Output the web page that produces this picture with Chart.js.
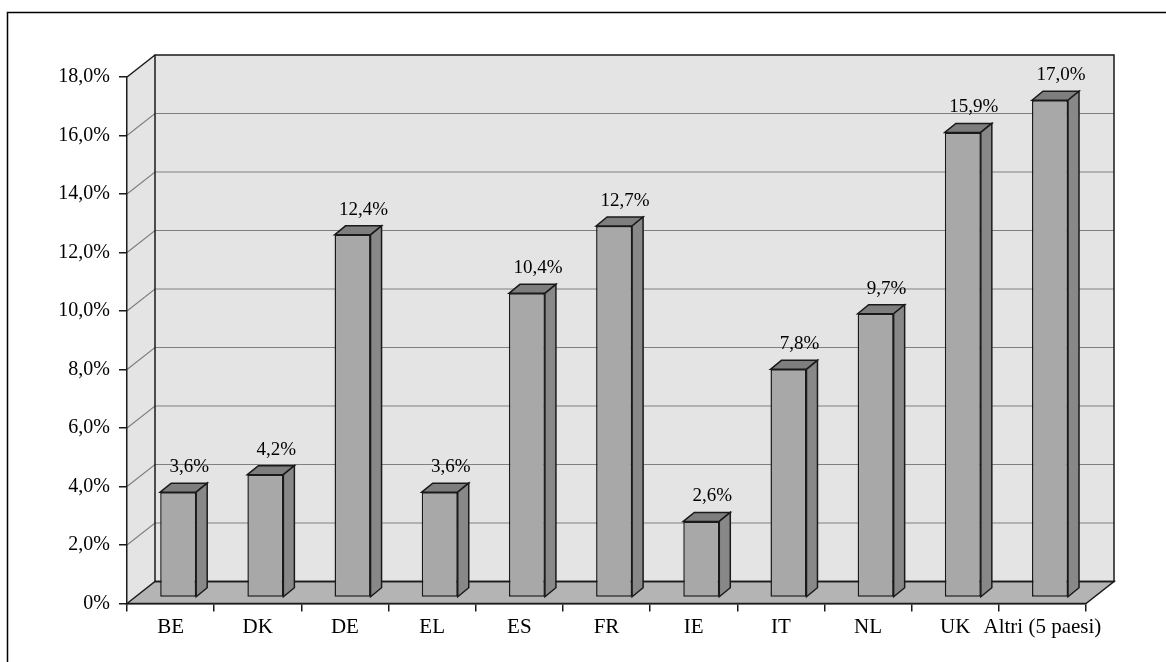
<!DOCTYPE html>
<html>
<head>
<meta charset="utf-8">
<script src="https://cdn.jsdelivr.net/npm/chart.js@4.4.1/dist/chart.umd.min.js"></script>
<style>
  html, body { margin: 0; padding: 0; background: #ffffff; }
  #wrap { width: 1166px; height: 662px; position: relative; }
</style>
</head>
<body>
<div id="wrap"><canvas id="c" width="1166" height="662"></canvas></div>
<script>
// Quota per paese (%)
const categories = ['BE', 'DK', 'DE', 'EL', 'ES', 'FR', 'IE', 'IT', 'NL', 'UK', 'Altri (5 paesi)'];
const shares = [3.6, 4.2, 12.4, 3.6, 10.4, 12.7, 2.6, 7.8, 9.7, 15.9, 17.0];
const yMin = 0;
const yMax = 18;
const yStep = 2;

// Depth of the back wall / floor and placement of the bars inside it
const WALL_DX = 28, WALL_DY = 22;
const BAR_SHIFT_X = 7.6, BAR_SHIFT_Y = 6;
const BAR_DX = 11, BAR_DY = 9;

const SERIF = '"Liberation Serif", "Times New Roman", serif';
const EDGE = '#1a1a1a';

function fmtPct(v) {
  return v === 0 ? '0%' : v.toFixed(1).replace('.', ',') + '%';
}

function poly(ctx, pts, fill, stroke, lw) {
  ctx.beginPath();
  ctx.moveTo(pts[0][0], pts[0][1]);
  for (let i = 1; i < pts.length; i++) ctx.lineTo(pts[i][0], pts[i][1]);
  ctx.closePath();
  if (fill) { ctx.fillStyle = fill; ctx.fill(); }
  if (stroke) { ctx.strokeStyle = stroke; ctx.lineWidth = lw || 1.5; ctx.stroke(); }
}

// Frame, walls, floor and back-wall gridlines
const box3d = {
  id: 'box3d',
  beforeDraw(chart) {
    const { ctx, chartArea: a, scales } = chart;
    const y = scales.y;
    ctx.save();
    // outer frame
    ctx.strokeStyle = '#000';
    ctx.lineWidth = 1.5;
    ctx.strokeRect(7.5, 12.5, 1200, 700);

    const L = a.left, R = a.right, B = y.getPixelForValue(yMin), T = y.getPixelForValue(yMax);
    // back wall
    poly(ctx, [[L + WALL_DX, T - WALL_DY], [R + WALL_DX, T - WALL_DY], [R + WALL_DX, B - WALL_DY], [L + WALL_DX, B - WALL_DY]], '#e4e4e4', null);
    // side wall
    poly(ctx, [[L, B], [L, T], [L + WALL_DX, T - WALL_DY], [L + WALL_DX, B - WALL_DY]], '#e4e4e4', null);

    // gridlines
    ctx.strokeStyle = '#808080';
    ctx.lineWidth = 1.2;
    for (let v = yMin + yStep; v < yMax; v += yStep) {
      const py = y.getPixelForValue(v);
      ctx.beginPath();
      ctx.moveTo(L, py);
      ctx.lineTo(L + WALL_DX, py - WALL_DY);
      ctx.lineTo(R + WALL_DX, py - WALL_DY);
      ctx.stroke();
    }

    // floor
    poly(ctx, [[L, B], [L + WALL_DX, B - WALL_DY], [R + WALL_DX, B - WALL_DY], [R, B]], '#b4b4b4', EDGE, 1.5);
    // wall outlines
    ctx.strokeStyle = EDGE;
    ctx.lineWidth = 1.5;
    ctx.strokeRect(L + WALL_DX, T - WALL_DY, R - L, B - T);
    ctx.beginPath();
    ctx.moveTo(L, T);
    ctx.lineTo(L + WALL_DX, T - WALL_DY);
    ctx.stroke();
    ctx.restore();
  },
  beforeDatasetsDraw(chart) {
    chart.ctx.save();
    chart.ctx.translate(BAR_SHIFT_X, -BAR_SHIFT_Y);
  },
  afterDatasetsDraw(chart) {
    const ctx = chart.ctx;
    const meta = chart.getDatasetMeta(0);
    meta.data.forEach((bar, i) => {
      const p = bar.getProps(['x', 'y', 'base', 'width'], true);
      const l = p.x - p.width / 2, r = p.x + p.width / 2, t = p.y, b = p.base;
      // top face
      poly(ctx, [[l, t], [l + BAR_DX, t - BAR_DY], [r + BAR_DX, t - BAR_DY], [r, t]], '#7e7e7e', EDGE, 1.5);
      // right face
      poly(ctx, [[r, t], [r + BAR_DX, t - BAR_DY], [r + BAR_DX, b - BAR_DY], [r, b]], '#888888', EDGE, 1.5);
      // value label
      ctx.fillStyle = '#000';
      ctx.font = '19px ' + SERIF;
      ctx.textAlign = 'center';
      ctx.textBaseline = 'alphabetic';
      ctx.fillText(fmtPct(shares[i]), p.x + 11, t - 20);
    });
    ctx.restore();
  }
};

new Chart(document.getElementById('c'), {
  type: 'bar',
  data: {
    labels: categories,
    datasets: [{
      data: shares,
      backgroundColor: '#a8a8a8',
      borderColor: EDGE,
      borderWidth: 1.5,
      borderSkipped: false,
      categoryPercentage: 1,
      barPercentage: 0.413,
      clip: false
    }]
  },
  options: {
    responsive: false,
    devicePixelRatio: 1,
    animation: false,
    events: [],
    layout: { padding: { left: 0, top: 77, right: 80, bottom: 8.5 } },
    plugins: { legend: { display: false }, tooltip: { enabled: false }, title: { display: false } },
    scales: {
      x: {
        afterFit(s) { s.height = 50; },
        grid: { offset: true, drawOnChartArea: false, drawTicks: true, tickLength: 8, color: EDGE, lineWidth: 1.5 },
        border: { display: true, color: EDGE, width: 1.5 },
        ticks: { color: '#000', font: { family: SERIF, size: 21 }, padding: 3, maxRotation: 0, autoSkip: false }
      },
      y: {
        min: yMin,
        max: yMax,
        afterFit(s) { s.width = 127; },
        grid: { drawOnChartArea: false, drawTicks: true, tickLength: 8, color: EDGE, lineWidth: 1.5 },
        border: { display: true, color: EDGE, width: 1.5 },
        ticks: { stepSize: yStep, color: '#000', font: { family: SERIF, size: 20 }, padding: 9, callback: (v) => fmtPct(v) }
      }
    }
  },
  plugins: [box3d]
});
</script>
</body>
</html>
